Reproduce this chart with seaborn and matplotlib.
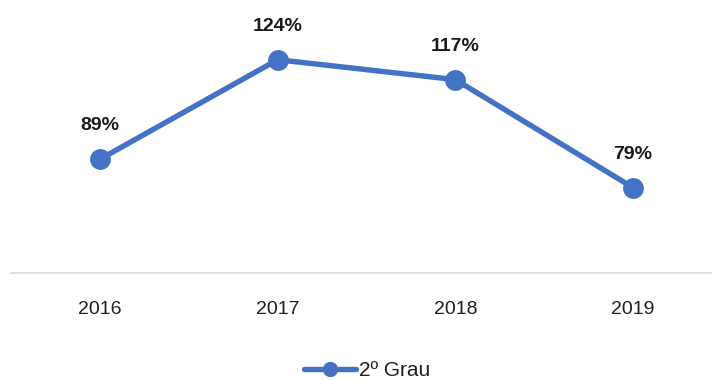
import matplotlib
matplotlib.use("Agg")
import matplotlib.pyplot as plt
import seaborn as sns
import pandas as pd

years = ["2016", "2017", "2018", "2019"]
values = [89, 124, 117, 79]
series_name = "2º Grau"

sns.set_theme(style="white")
plt.rcParams["font.family"] = ["Liberation Sans", "DejaVu Sans"]

df = pd.DataFrame({"ano": years, "valor": values, "serie": series_name})

fig = plt.figure(figsize=(7.12, 3.8), dpi=100)
ax = fig.add_axes([11 / 712, 107 / 380, 711 / 712, 273 / 380])

color = "#4472C4"
sns.lineplot(data=df, x="ano", y="valor", hue="serie", palette=[color],
             marker="o", markersize=15, markeredgewidth=0, linewidth=3.9,
             sort=False, ax=ax)

for i, v in enumerate(values):
    ax.annotate(f"{v}%", (i, v), xytext=(0, 18), textcoords="offset points",
                ha="center", va="bottom", fontsize=14, fontweight="bold",
                color="#1a1a1a")

ax.set_xlim(-0.5, 3.5)
ax.set_ylim(49, 145)
ax.set_yticks([])
ax.set_xlabel("")
ax.set_ylabel("")
for side in ["top", "right", "left"]:
    ax.spines[side].set_visible(False)
ax.spines["bottom"].set_color("#d9d9d9")
ax.spines["bottom"].set_linewidth(1.2)
ax.tick_params(axis="x", length=0, pad=20, labelsize=14, colors="#1f1f1f")

handles, labels = ax.get_legend_handles_labels()
leg = ax.legend(handles, labels, loc="center", frameon=False, fontsize=15,
                handlelength=2.5, handletextpad=0.15, labelcolor="#1f1f1f")
leg.set_bbox_to_anchor((367 / 712, 1 - 371 / 380), transform=fig.transFigure)
for h in leg.legend_handles:
    h.set_markersize(11)

fig.savefig("out.png", dpi=100)
